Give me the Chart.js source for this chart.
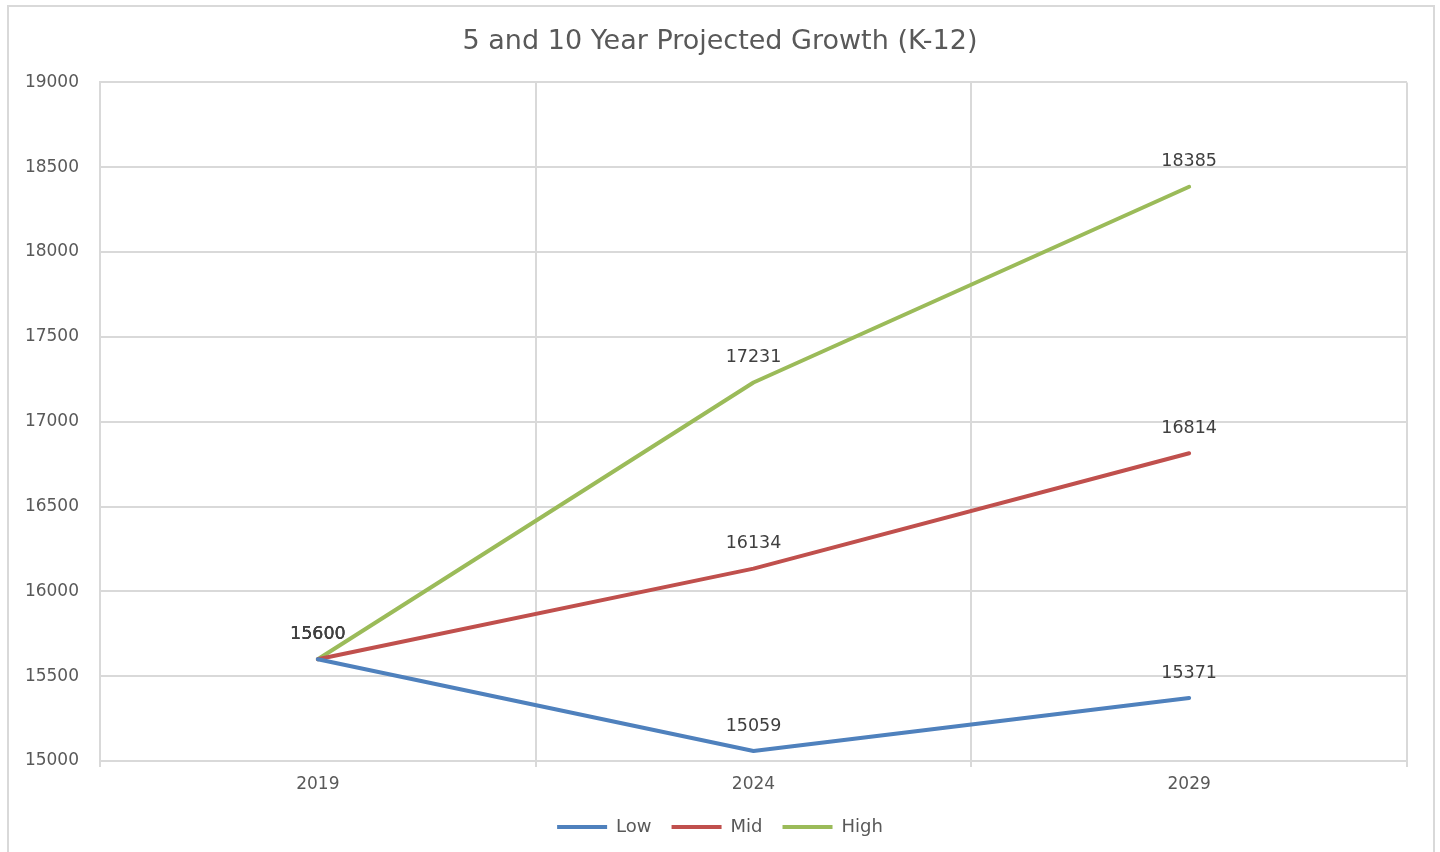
<!DOCTYPE html>
<html>
<head>
<meta charset="utf-8">
<script src="https://cdn.jsdelivr.net/npm/chart.js@4"></script>
<style>
  html, body { margin: 0; padding: 0; background: #fff; }
  #wrap { position: relative; width: 1440px; height: 852px; overflow: hidden; }
  #frame {
    position: absolute; left: 7px; top: 5px; width: 1424px; height: 870px;
    border: 2px solid #d9d9d9; pointer-events: none;
  }
  canvas { position: absolute; left: 0; top: 0; }
</style>
</head>
<body>
<div id="wrap">
  <canvas id="chart" width="1440" height="852"></canvas>
  <div id="frame"></div>
</div>
<script>
const years = ['2019', '2024', '2029']
const lowValues = [15600, 15059, 15371]
const midValues = [15600, 16134, 16814]
const highValues = [15600, 17231, 18385]

const fontFamily = '"DejaVu Sans", sans-serif'
const gridColor = '#d9d9d9'

// value labels above each point, like the spreadsheet data labels
const pointLabels = {
  id: 'pointLabels',
  afterDatasetsDraw(chart) {
    const ctx = chart.ctx
    ctx.save()
    ctx.font = '17.5px ' + fontFamily
    ctx.fillStyle = '#404040'
    ctx.textAlign = 'center'
    ctx.textBaseline = 'middle'
    chart.data.datasets.forEach((dataset, i) => {
      const meta = chart.getDatasetMeta(i)
      meta.data.forEach((point, j) => {
        ctx.fillText(String(dataset.data[j]), point.x, point.y - 25)
      })
    })
    ctx.restore()
  }
}

const lineStyle = {
  borderWidth: 4,
  pointRadius: 0,
  pointHoverRadius: 0,
  tension: 0,
  borderCapStyle: 'round',
  borderJoinStyle: 'round',
  fill: false
}

new Chart(document.getElementById('chart'), {
  type: 'line',
  data: {
    labels: years,
    datasets: [
      { label: 'Low', data: lowValues, borderColor: '#4f81bd', backgroundColor: '#4f81bd', ...lineStyle },
      { label: 'Mid', data: midValues, borderColor: '#c0504d', backgroundColor: '#c0504d', ...lineStyle },
      { label: 'High', data: highValues, borderColor: '#9bbb59', backgroundColor: '#9bbb59', ...lineStyle }
    ]
  },
  options: {
    responsive: false,
    animation: false,
    layout: {
      padding: { left: 0, right: 0, top: 0, bottom: 6 }
    },
    scales: {
      x: {
        offset: true,
        grid: {
          offset: true,
          color: gridColor,
          lineWidth: 2,
          drawTicks: true,
          tickLength: 6,
          tickColor: gridColor
        },
        border: { display: true, color: gridColor, width: 2 },
        ticks: {
          color: '#595959',
          font: { family: fontFamily, size: 17 },
          padding: 7
        },
        afterFit(scale) { scale.height = 37 }
      },
      y: {
        min: 15000,
        max: 19000,
        ticks: {
          stepSize: 500,
          color: '#595959',
          font: { family: fontFamily, size: 17 },
          padding: 21,
          callback: value => String(value)
        },
        grid: {
          color: gridColor,
          lineWidth: 2,
          drawTicks: false
        },
        border: { display: true, color: gridColor, width: 2 },
        afterFit(scale) { scale.width = 100 }
      },
      // empty right margin so the legend stays centred on the page
      yRight: {
        position: 'right',
        grid: { display: false, drawTicks: false },
        border: { display: false },
        ticks: { display: false },
        afterFit(scale) { scale.width = 33 }
      }
    },
    plugins: {
      title: {
        display: true,
        text: '5 and 10 Year Projected Growth (K-12)',
        color: '#595959',
        font: { family: fontFamily, size: 27, weight: 'normal' },
        padding: { top: 26, bottom: 24 }
      },
      legend: {
        position: 'bottom',
        labels: {
          usePointStyle: true,
          pointStyle: 'line',
          pointStyleWidth: 50,
          boxHeight: 4,
          color: '#595959',
          font: { family: fontFamily, size: 18 },
          padding: 20
        }
      },
      tooltip: { enabled: false }
    }
  },
  plugins: [pointLabels]
})
</script>
</body>
</html>
